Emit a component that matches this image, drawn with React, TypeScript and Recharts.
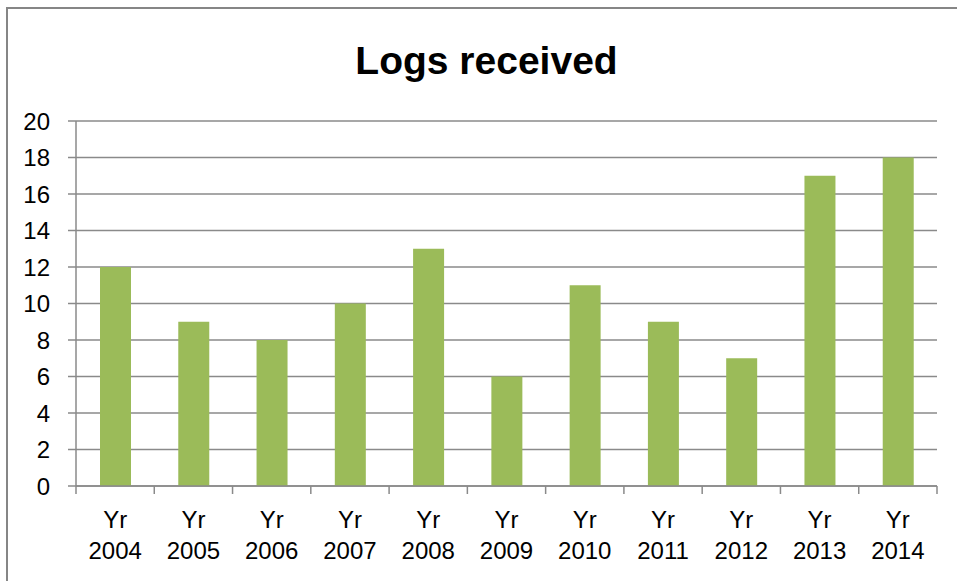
import { Bar, BarChart, CartesianGrid, XAxis, YAxis } from "recharts";

const years = ["2004", "2005", "2006", "2007", "2008", "2009", "2010", "2011", "2012", "2013", "2014"];
const logs = [12, 9, 8, 10, 13, 6, 11, 9, 7, 17, 18];
const yTicks = [0, 2, 4, 6, 8, 10, 12, 14, 16, 18, 20];

const data = years.map((y, i) => ({ year: y, logs: logs[i] }));

const W = 957;
const H = 581;
const PLOT_LEFT = 76;
const PLOT_RIGHT = 937;
const BAND = (PLOT_RIGHT - PLOT_LEFT) / years.length;
const FONT = "'Liberation Sans', Arial, sans-serif";
const GRID = "#8a8a8a";

function YearTick(props: any) {
  const { x, y, payload, index } = props;
  return (
    <g>
      <line x1={x - BAND / 2} y1={y - 8} x2={x - BAND / 2} y2={y} stroke={GRID} strokeWidth={1.5} />
      {index === years.length - 1 && (
        <line x1={x + BAND / 2} y1={y - 8} x2={x + BAND / 2} y2={y} stroke={GRID} strokeWidth={1.5} />
      )}
      <text x={x} y={y + 34} textAnchor="middle" fontSize={24} fontFamily={FONT} fill="#000">
        Yr
      </text>
      <text x={x} y={y + 65} textAnchor="middle" fontSize={24} fontFamily={FONT} fill="#000">
        {payload.value}
      </text>
    </g>
  );
}

export default function App() {
  return (
    <div style={{ position: "absolute", left: 0, top: 0, width: W, height: H, overflow: "hidden", background: "#fff" }}>
      <div
        style={{
          position: "absolute",
          left: 6,
          top: 7,
          width: 1000,
          height: 1000,
          border: "2px solid #868686",
        }}
      />
      <div
        style={{
          position: "absolute",
          left: 0,
          top: 39,
          width: 973,
          textAlign: "center",
          fontFamily: FONT,
          fontWeight: "bold",
          fontSize: 39,
          color: "#000",
        }}
      >
        Logs received
      </div>
      <div style={{ position: "absolute", left: 0, top: 0 }}>
        <BarChart
          width={W}
          height={H}
          data={data}
          margin={{ top: 121, right: W - PLOT_RIGHT, left: 0, bottom: 0 }}
          barCategoryGap={0}
        >
          <CartesianGrid vertical={false} stroke={GRID} strokeWidth={1.5} />
          <XAxis
            dataKey="year"
            height={H - 486}
            axisLine={{ stroke: GRID, strokeWidth: 1.5 }}
            tickLine={false}
            interval={0}
            tick={<YearTick />}
          />
          <YAxis
            width={PLOT_LEFT}
            domain={[0, 20]}
            ticks={yTicks}
            interval={0}
            axisLine={{ stroke: GRID, strokeWidth: 1.5 }}
            tickLine={{ stroke: GRID, strokeWidth: 1.5 }}
            tickSize={8}
            tickMargin={18}
            tick={{ fontSize: 24, fontFamily: FONT, fill: "#000" }}
          />
          <Bar dataKey="logs" fill="#9bbb59" barSize={31} isAnimationActive={false} />
        </BarChart>
      </div>
    </div>
  );
}
